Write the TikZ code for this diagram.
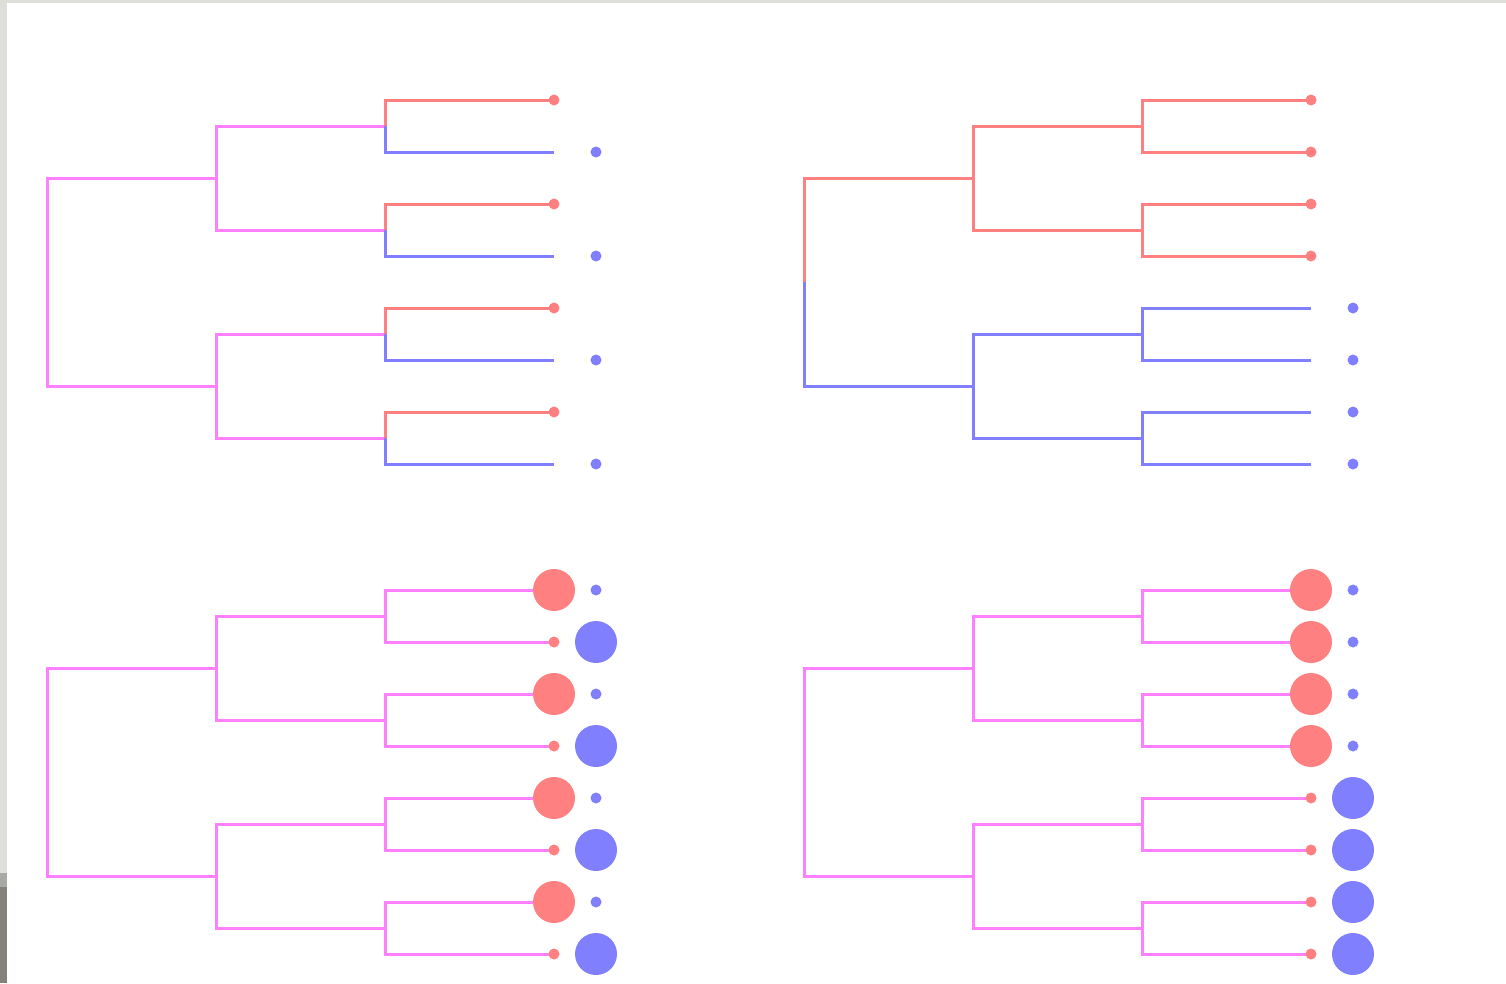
\documentclass[tikz,border=0pt]{standalone}
\definecolor{mag}{HTML}{FF80FF}
\definecolor{rd}{HTML}{FF8080}
\definecolor{bl}{HTML}{8080FF}
\definecolor{frameA}{HTML}{DFDFD9}
\definecolor{frameB}{HTML}{A9A9A3}
\definecolor{frameC}{HTML}{82827A}
\newcommand\treecoords[3]{%
  \begin{scope}[shift={(#2,#3)}]
    \coordinate (#1r) at (47,282);
    \coordinate (#1a) at (216,178);
    \coordinate (#1b) at (216,386);
    \coordinate (#1aa) at (385,126);
    \coordinate (#1ab) at (385,230);
    \coordinate (#1ba) at (385,334);
    \coordinate (#1bb) at (385,438);
    \foreach \i [evaluate=\i as \yy using 48+52*\i] in {1,...,8}
      \coordinate (#1\i) at (554,\yy);
  \end{scope}}
\begin{document}
\begin{tikzpicture}[x=1pt,y=-1pt,
  edge/.style={line width=3pt,line join=miter},
  sdot/.style={circle,inner sep=0pt,minimum size=11pt,fill=#1},
  bdot/.style={circle,inner sep=0pt,minimum size=42pt,fill=#1}]
\useasboundingbox (0,0) rectangle (1506,983);
\fill[white] (0,0) rectangle (1506,983);
\fill[frameA] (0,0) rectangle (1506,3);
\fill[frameA] (0,0) rectangle (7,873);
\fill[frameB] (0,873) rectangle (7,887);
\fill[frameC] (0,887) rectangle (7,983);

\treecoords{A}{0}{0}
\treecoords{B}{757}{0}
\treecoords{C}{0}{490}
\treecoords{D}{757}{490}

% tree A (top left)
\foreach \u/\v/\c in {r/a/mag,r/b/mag,a/aa/mag,a/ab/mag,b/ba/mag,b/bb/mag,
  aa/1/rd,aa/2/bl,ab/3/rd,ab/4/bl,ba/5/rd,ba/6/bl,bb/7/rd,bb/8/bl}
  \draw[edge,\c] (A\u) |- (A\v);
% tree B (top right)
\foreach \u/\v/\c in {r/a/rd,r/b/bl,a/aa/rd,a/ab/rd,b/ba/bl,b/bb/bl,
  aa/1/rd,aa/2/rd,ab/3/rd,ab/4/rd,ba/5/bl,ba/6/bl,bb/7/bl,bb/8/bl}
  \draw[edge,\c] (B\u) |- (B\v);
% trees C and D (bottom)
\foreach \t in {C,D}
  \foreach \u/\v in {r/a,r/b,a/aa,a/ab,b/ba,b/bb,aa/1,aa/2,ab/3,ab/4,ba/5,ba/6,bb/7,bb/8}
    \draw[edge,mag] (\t\u) |- (\t\v);

% dots tree A
\foreach \i in {1,3,5,7} \node[sdot=rd] (A\i r) at (A\i) {};
\foreach \i in {2,4,6,8} \node[sdot=bl] (A\i b) at ([xshift=42pt]A\i) {};
% dots tree B
\foreach \i in {1,2,3,4} \node[sdot=rd] (B\i r) at (B\i) {};
\foreach \i in {5,6,7,8} \node[sdot=bl] (B\i b) at ([xshift=42pt]B\i) {};
% dots tree C
\foreach \i in {1,3,5,7} {
  \node[bdot=rd] (C\i r) at (C\i) {};
  \node[sdot=bl] (C\i b) at ([xshift=42pt]C\i) {};}
\foreach \i in {2,4,6,8} {
  \node[sdot=rd] (C\i r) at (C\i) {};
  \node[bdot=bl] (C\i b) at ([xshift=42pt]C\i) {};}
% dots tree D
\foreach \i in {1,2,3,4} {
  \node[bdot=rd] (D\i r) at (D\i) {};
  \node[sdot=bl] (D\i b) at ([xshift=42pt]D\i) {};}
\foreach \i in {5,6,7,8} {
  \node[sdot=rd] (D\i r) at (D\i) {};
  \node[bdot=bl] (D\i b) at ([xshift=42pt]D\i) {};}
\end{tikzpicture}
\end{document}
